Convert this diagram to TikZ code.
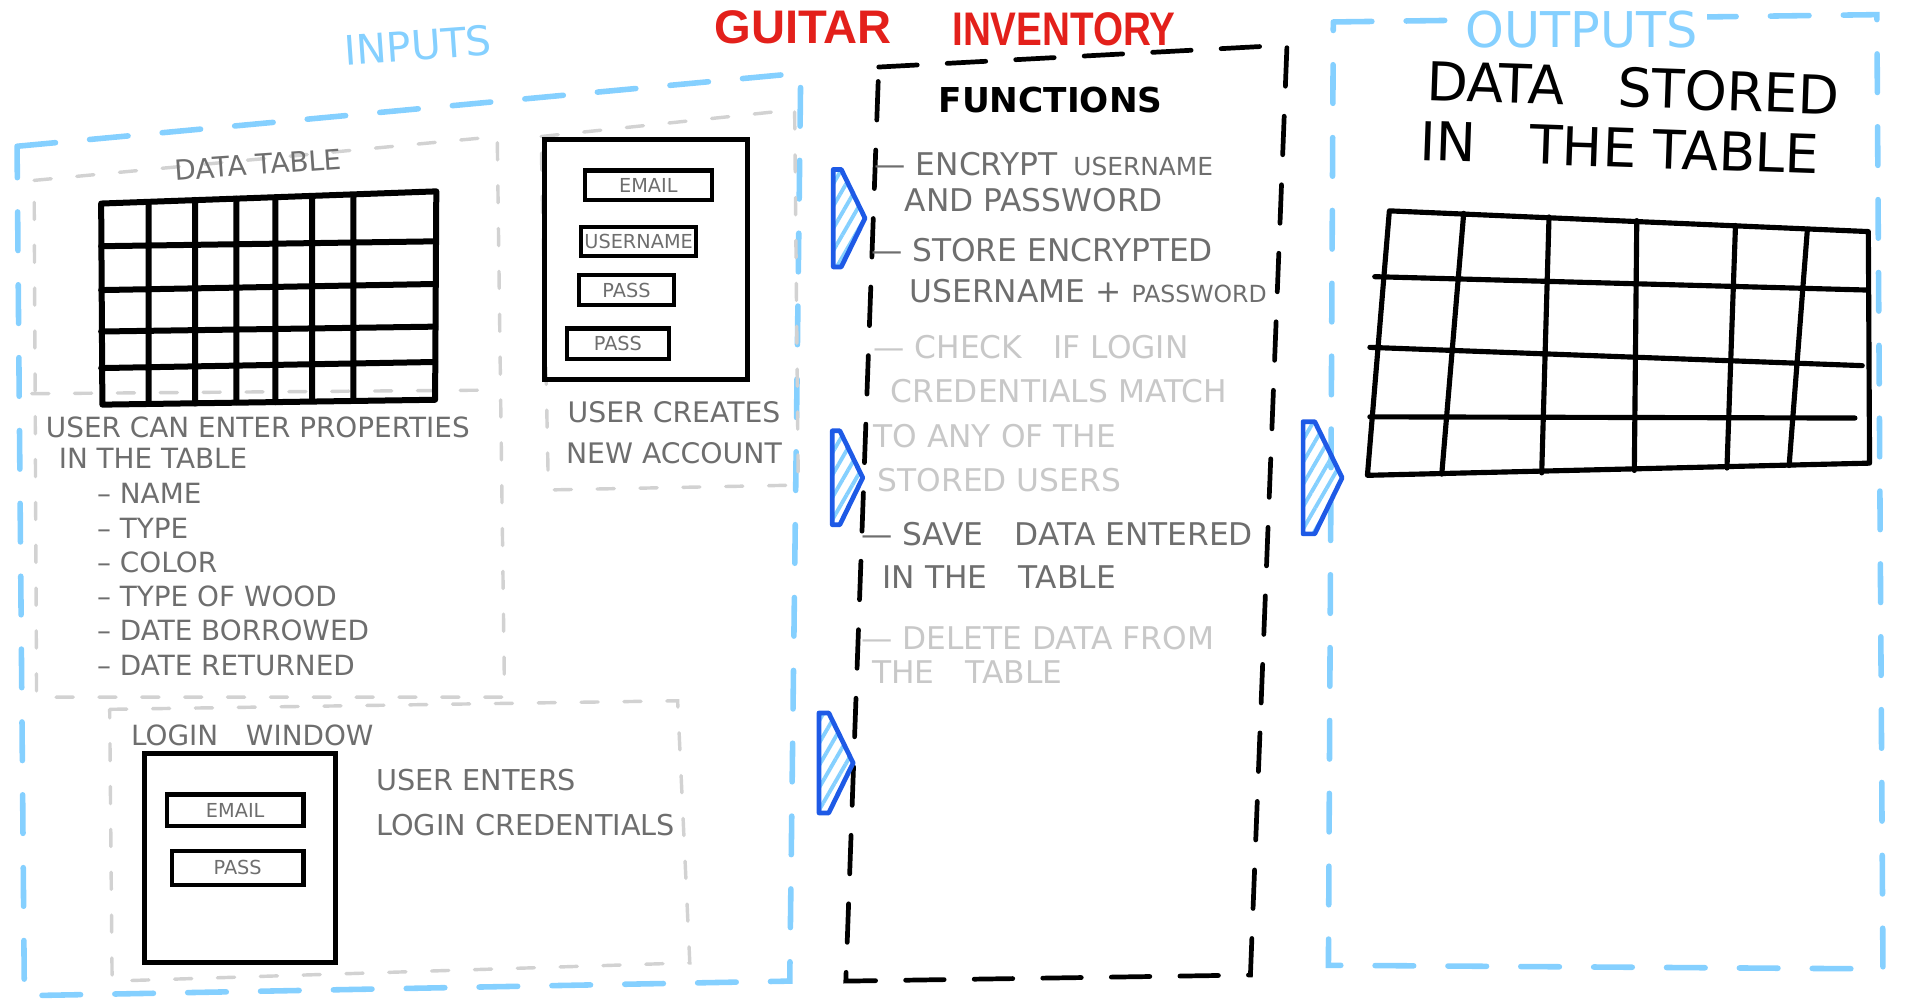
\documentclass[tikz,border=0pt]{standalone}
\usepackage{fontspec}
\setmainfont{DejaVu Sans}
\newfontfamily\titlefont{Liberation Sans}
\usepackage{tikz}
\usetikzlibrary{shapes.symbols, patterns.meta}
\definecolor{titleRed}{HTML}{E3201B}
\definecolor{skyBlue}{HTML}{85D0FF}
\definecolor{arrowBlue}{HTML}{1E5AE6}
\definecolor{inkGrey}{HTML}{6E6E6E}
\definecolor{fadeGrey}{HTML}{C8C8C8}
\definecolor{frameGrey}{HTML}{D2D2D2}

\begin{document}
\begin{tikzpicture} [
    x=0.01cm, y=-0.01cm,
    blueFrame/.style={skyBlue, line width=1.3pt, dash pattern=on 9pt off 8pt, line cap=round},
    funcFrame/.style={black, line width=1.1pt, dash pattern=on 9pt off 7pt, line cap=round},
    greyFrame/.style={frameGrey, line width=0.8pt, dash pattern=on 4pt off 6pt, line cap=round},
    gridLine/.style={black, line width=1.2pt, line cap=round, line join=round},
    form/.style={draw, line width=1.2pt, inner sep=0pt},
    field/.style={draw, line width=1pt, inner sep=0pt, text=inkGrey, font=\fontsize{4.5}{5}\selectfont},
    sketchText/.style={text=inkGrey, inner sep=0pt, align=left, font=\fontsize{6.5}{#1}\selectfont},
    sketchText/.default=8pt,
    fnItem/.style={anchor=north west, inner sep=0pt, align=left, font=\fontsize{7.3}{#1}\selectfont},
    fnItem/.default=9pt,
    flowArrow/.style={signal, signal to=east, signal pointer angle=128, inner sep=0pt, draw=arrowBlue, line width=1.1pt, line join=round, pattern={Lines[angle=60, distance=2.6pt, line width=0.9pt]}, pattern color=skyBlue}
]
    \useasboundingbox (0,0) rectangle (1568,823);

    % frames
    \draw[blueFrame] (14,120) -- (657,60) -- (648,805) -- (20,817) -- cycle;
    \draw[blueFrame] (1094,18) -- (1540,12) -- (1545,795) -- (1090,792) -- cycle;
    \draw[funcFrame] (721,55) -- (1056,37) -- (1026,800) -- (694,805) -- cycle;
    \draw[greyFrame] (28,148) -- (408,112) -- (414,572) -- (30,572) -- cycle;
    \draw[greyFrame] (26,323) -- (412,320);
    \draw[greyFrame] (444,112) -- (652,90) -- (655,398) -- (450,402) -- cycle;
    \draw[greyFrame] (90,582) -- (556,575) -- (566,790) -- (92,805) -- cycle;

    % headings
    \node[text=titleRed, font=\titlefont\bfseries\fontsize{11}{13}\selectfont] (titleGuitar) at (659,22) {GUITAR};
    \node[text=titleRed, font=\titlefont\bfseries\fontsize{11}{13}\selectfont] (titleInventory) at (873,24) {\scalebox{0.82}[1]{INVENTORY}};
    \node[text=skyBlue, rotate=4, font=\fontsize{9.5}{11}\selectfont] (inputs) at (343,37) {INPUTS};
    \node[text=skyBlue, fill=white, inner sep=2pt, font=\fontsize{11.5}{13}\selectfont] (outputs) at (1298,24) {OUTPUTS};
    \node[font=\bfseries\fontsize{8}{10}\selectfont] (functions) at (862,82) {FUNCTIONS};

    % data table
    \node[sketchText, rotate=4] (dataTableLabel) at (212,135) {DATA TABLE};
    \draw[gridLine, line width=1.4pt] (83,167) -- (358,157) -- (357,328) -- (84,332) -- cycle;
    \draw[gridLine, line width=1.4pt] (122,166) -- (122,331) (160,164) -- (160,331) (194,163) -- (194,330)
        (226,162) -- (226,330) (256,161) -- (256,329) (290,160) -- (290,329)
        (83,202) -- (357,198) (83,238) -- (357,233) (83,272) -- (357,268) (83,302) -- (357,297);
    \node[sketchText=7.4pt, anchor=north west] (propIntro) at (37,341) {USER CAN ENTER PROPERTIES\\\hspace*{3pt}IN THE TABLE};
    \node[sketchText=8pt, anchor=north west] (propList) at (79,396) {-- NAME\\-- TYPE\\-- COLOR\\-- TYPE OF WOOD\\-- DATE BORROWED\\-- DATE RETURNED};

    % new account
    \node[form, minimum width=1.67cm, minimum height=1.97cm] (accountForm) at (530,213) {};
    \node[field, minimum width=1.04cm, minimum height=0.24cm] (accountEmail) at (532,152) {EMAIL};
    \node[field, minimum width=0.94cm, minimum height=0.24cm] (accountUser) at (524,198) {USERNAME};
    \node[field, minimum width=0.78cm, minimum height=0.25cm] (accountPass) at (514,238) {PASS};
    \node[field, minimum width=0.84cm, minimum height=0.25cm] (accountRepeat) at (507,282) {PASS};
    \node[sketchText=9.7pt, align=center, font=\fontsize{6.6}{9.7}\selectfont] (accountText) at (553,355) {USER CREATES\\NEW ACCOUNT};

    % login window
    \node[sketchText] (loginLabel) at (207,603) {LOGIN\quad WINDOW};
    \node[form, minimum width=1.57cm, minimum height=1.71cm] (loginForm) at (197,704) {};
    \node[field, minimum width=1.12cm, minimum height=0.26cm] (loginEmail) at (193,665) {EMAIL};
    \node[field, minimum width=1.08cm, minimum height=0.28cm] (loginPass) at (195,712) {PASS};
    \node[sketchText, anchor=north west, font=\fontsize{6.7}{10.5}\selectfont] (loginText) at (308,630) {USER ENTERS\\LOGIN CREDENTIALS};

    % functions
    \node[fnItem=8.5pt, text=inkGrey] (fnEncrypt) at (717,124) {\textemdash\ ENCRYPT\enspace{\fontsize{5.8}{7}\selectfont USERNAME}\\\hspace*{7pt}AND PASSWORD};
    \node[fnItem=9.4pt, text=inkGrey] (fnStore) at (714,195) {\textemdash\ STORE ENCRYPTED\\\hspace*{9pt}USERNAME + {\fontsize{5.5}{7}\selectfont PASSWORD}};
    \node[fnItem=10.4pt, text=fadeGrey] (fnCheck) at (716,274) {\textemdash\ CHECK\quad IF LOGIN\\\hspace*{4pt}CREDENTIALS MATCH\\TO ANY OF THE\\\hspace*{1pt}STORED USERS};
    \node[fnItem=10pt, text=inkGrey] (fnSave) at (706,428) {\textemdash\ SAVE\quad DATA ENTERED\\\hspace*{5pt}IN THE\quad TABLE};
    \node[fnItem=8pt, text=fadeGrey] (fnDelete) at (706,513) {\textemdash\ DELETE DATA FROM\\\hspace*{2.5pt}THE\quad TABLE};

    % outputs
    \node[rotate=-2, inner sep=0pt, font=\fontsize{12.5}{14}\selectfont] (storedLine) at (1340,72) {DATA\quad STORED};
    \node[rotate=-2, inner sep=0pt, font=\fontsize{12.5}{14}\selectfont] (tableLine) at (1329,121) {IN\quad THE TABLE};
    \draw[gridLine] (1140,173) -- (1533,190) -- (1534,380) -- (1122,390) -- cycle;
    \draw[gridLine] (1201,175) -- (1183,389) (1271,178) -- (1265,388) (1343,181) -- (1341,386)
        (1424,185) -- (1417,384) (1483,188) -- (1468,382)
        (1128,227) -- (1533,238) (1124,285) -- (1528,300) (1124,342) -- (1522,343);

    % block arrows
    \node[flowArrow, minimum width=0.26cm, minimum height=0.80cm] (arrowTable) at (687,179) {};
    \node[flowArrow, minimum width=0.25cm, minimum height=0.77cm] (arrowAccount) at (686,392) {};
    \node[flowArrow, minimum width=0.28cm, minimum height=0.82cm] (arrowLogin) at (676,626) {};
    \node[flowArrow, minimum width=0.32cm, minimum height=0.92cm] (arrowOutput) at (1074,392) {};
\end{tikzpicture}
\end{document}
